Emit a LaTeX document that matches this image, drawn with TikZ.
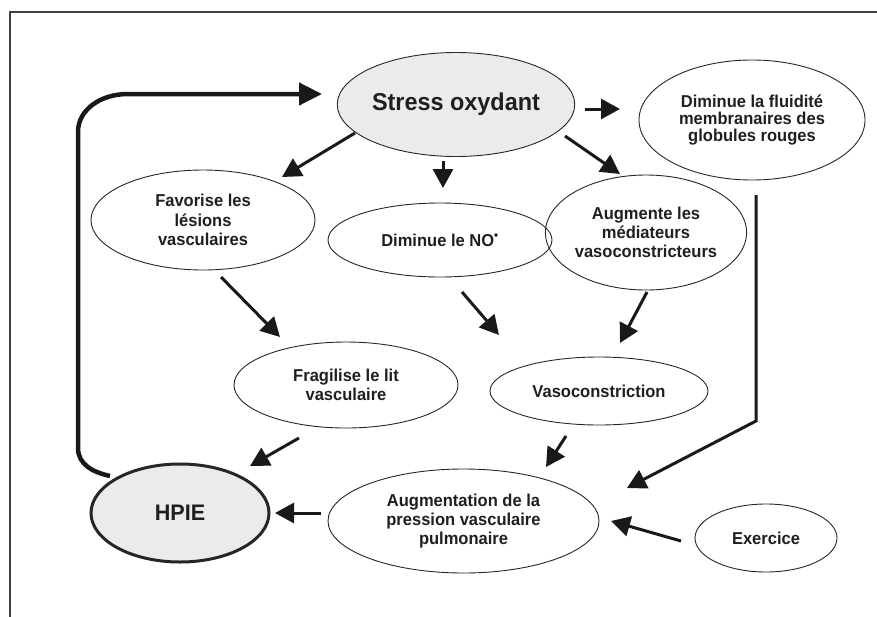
\documentclass[tikz,border=0pt]{standalone}
\usepackage{fontspec}
\setmainfont{Liberation Sans}[FakeStretch=0.96]
\usetikzlibrary{shapes.geometric,arrows.meta}
\begin{document}
\begin{tikzpicture}[x=1pt,y=-1pt,
  el/.style={ellipse, draw=black!85, line width=0.9pt, inner sep=0pt, align=center,
    text=black!88, font=\bfseries\fontsize{17.2}{19.2}\selectfont},
  grayel/.style={el, fill=black!8},
  arr/.style={line width=3pt, black!90, -{Triangle[length=19pt,width=20pt]}},
  looparr/.style={line width=4.5pt, black!90, -{Triangle[length=23pt,width=22pt]}},
]
\useasboundingbox (0,0) rectangle (877,616);
\draw[line width=1.3pt, black!75] (10,640) -- (10,12) -- (900,12);

% nodes
\node[grayel, minimum width=232, minimum height=104,
  font=\bfseries\fontsize{24.4}{26}\selectfont] (stress) at (456,104.5) {Stress oxydant};
\node[el, minimum width=226, minimum height=120,
  font=\bfseries\fontsize{17.2}{16.8}\selectfont] (flu) at (752,120)
  {Diminue la fluidité\\membranaires des\\globules rouges};
\node[el, minimum width=224, minimum height=100] (fav) at (203,220)
  {Favorise les\\lésions\\vasculaires};
\node[el, minimum width=224, minimum height=74] (no) at (440,240)
  {Diminue le NO\textsuperscript{•}};
\node[el, minimum width=188, minimum height=115] (aug) at (646,232.5)
  {Augmente les\\médiateurs\\vasoconstricteurs};
\node[el, minimum width=224, minimum height=86] (fra) at (346,385)
  {Fragilise le lit\\vasculaire};
\node[el, minimum width=218, minimum height=68] (vaso) at (599,391)
  {Vasoconstriction};
\node[grayel, line width=3pt, minimum width=178, minimum height=98,
  font=\bfseries\fontsize{22.5}{24}\selectfont] (hpie) at (180,513) {HPIE};
\node[el, minimum width=271, minimum height=104] (augp) at (463.5,521)
  {Augmentation de la\\pression vasculaire\\pulmonaire};
\node[el, minimum width=142, minimum height=68] (exe) at (766,538) {Exercice};

% connector end points
\coordinate (l0) at (110,476);
\coordinate (l1) at (322,94);
\coordinate (s1a) at (355,133);  \coordinate (s1b) at (282,177);
\coordinate (s2a) at (443,161);  \coordinate (s2b) at (443,188);
\coordinate (s3a) at (565,136);  \coordinate (s3b) at (620,174);
\coordinate (s4a) at (585,109);  \coordinate (s4b) at (620,109);
\coordinate (f1a) at (221,277);  \coordinate (f1b) at (280,337);
\coordinate (n1a) at (462,292);  \coordinate (n1b) at (499,335);
\coordinate (a1a) at (647,292);  \coordinate (a1b) at (620,343);
\coordinate (g1a) at (299,438);  \coordinate (g1b) at (250,466);
\coordinate (v1a) at (566,436);  \coordinate (v1b) at (546,467);
\coordinate (d1a) at (756,195);  \coordinate (d1c) at (756,421);
\coordinate (d1b) at (627,488);
\coordinate (e1a) at (681,541);  \coordinate (e1b) at (611,521);
\coordinate (p1a) at (321,513);  \coordinate (p1b) at (275,513);

% connectors
\draw[looparr] (l0) .. controls (92,472) and (78,464) .. (78,448)
  -- (78,132) .. controls (78,110) and (100,94) .. (128,94) -- (l1);
\draw[arr] (s1a) -- (s1b);
\draw[arr] (s2a) -- (s2b);
\draw[arr] (s3a) -- (s3b);
\draw[arr] (s4a) -- (s4b);
\draw[arr] (f1a) -- (f1b);
\draw[arr] (n1a) -- (n1b);
\draw[arr] (a1a) -- (a1b);
\draw[arr] (g1a) -- (g1b);
\draw[arr] (v1a) -- (v1b);
\draw[arr] (d1a) -- (d1c) -- (d1b);
\draw[arr] (e1a) -- (e1b);
\draw[arr] (p1a) -- (p1b);
\end{tikzpicture}
\end{document}
